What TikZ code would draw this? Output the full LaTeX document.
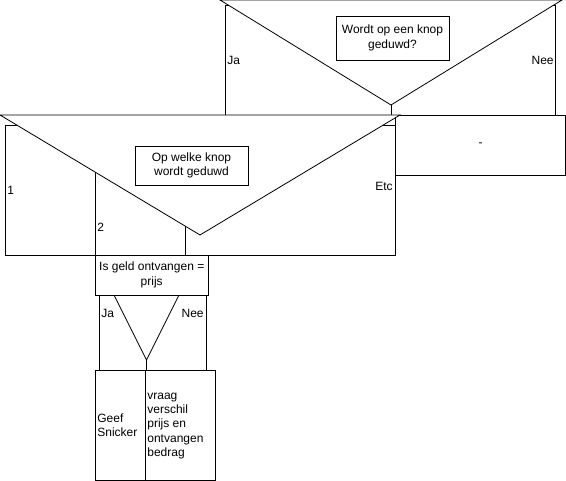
\documentclass[tikz,border=0pt]{standalone}
\usepackage{fontspec}
\setmainfont{Liberation Sans}
\usetikzlibrary{positioning,backgrounds}

\begin{document}
\begin{tikzpicture}[x=1pt,y=-1pt,line width=0.8pt,
        every node/.style={font=\fontsize{12}{14.4}\selectfont},
        qbox/.style={draw,fill=white,align=center,inner sep=0pt},
        lbl/.style={inner sep=1pt}]
        \useasboundingbox (0,0) rectangle (566,481);
        % top decision: knop geduwd?
        \draw[fill=white] (220,0) -- (562,0) -- (391,105) -- cycle;
        \node[qbox,minimum width=113,minimum height=44] at (392.5,38) (Q1) {Wordt op een knop\\geduwd?};
        \node[lbl,anchor=west] at (226,60) (Ja1) {Ja};
        \node[lbl,anchor=east] at (555,60) (Nee1) {Nee};
        \node[draw,minimum width=170,minimum height=60] at (480.5,145) (Dash) {-};
        % case: welke knop
        \draw[fill=white] (0,115) -- (400,115) -- (200,235) -- cycle;
        \node[qbox,minimum width=113,minimum height=39] at (191.5,165.5) (Q2) {Op welke knop\\wordt geduwd};
        \node[lbl,anchor=west] at (6,190) (C1) {1};
        \node[lbl,anchor=west] at (96,227) (C2) {2};
        \node[lbl,anchor=east] at (394,186) (Cetc) {Etc};
        \begin{scope}[on background layer]
            \draw (225,5) rectangle (555,115);
            \draw (391,105) -- (391,115);
            \draw (5,125) rectangle (395,255);
            \draw (95.5,172) -- (95.5,255);
            \draw (185.5,226) -- (185.5,255);
        \end{scope}
        % geld ontvangen = prijs
        \node[qbox,minimum width=112.5,minimum height=40] at (151.75,275) (Q3) {Is geld ontvangen =\\prijs};
        \draw (99,295) -- (99,370);
        \draw (206,295) -- (206,370);
        \draw (114,295) -- (146.5,360) -- (179,295);
        \draw (146.5,360) -- (146.5,370);
        \node[lbl,anchor=west] at (100,313) (Ja2) {Ja};
        \node[lbl,anchor=east] at (205,313) (Nee2) {Nee};
        \node[draw,minimum width=50,minimum height=110] at (120.5,425) (Geef) {};
        \node[draw,minimum width=69.5,minimum height=110] at (180.25,425) (Vraag) {};
        \node[lbl,anchor=west,align=left] at (96,425) {Geef\\Snicker};
        \node[lbl,anchor=west,align=left] at (146,426) {vraag\\verschil\\prijs en\\ontvangen\\bedrag};
    \end{tikzpicture}
\end{document}
